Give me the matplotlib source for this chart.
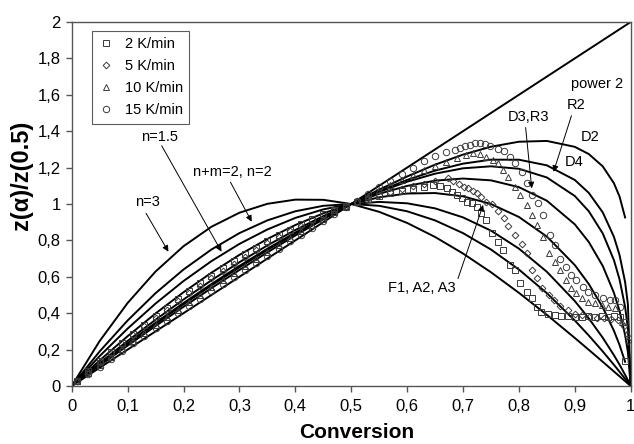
import matplotlib
matplotlib.use('Agg')
import matplotlib.pyplot as plt
from matplotlib.lines import Line2D

plt.rcParams['font.family'] = ['Liberation Sans', 'DejaVu Sans']

# ---------------- model master curves z(a)/z(0.5) ----------------
model_alpha = [0, .05, .1, .15, .2, .25, .3, .35, .4, .45, .5, .55, .6, .65, .7,
               .75, .8, .85, .9, .925, .95, .97, .98, .99, .995, 1.0]
n3 = [0, .2470, .4560, .6290, .7680, .8750, .9520, 1.0010, 1.0240, 1.0230, 1.0,
      .9570, .8960, .8190, .7280, .6250, .5120, .3910, .2640, .1989, .1330,
      .0799, .0533, .0267, .0133, 0]
n2 = [0, .19, .36, .51, .64, .75, .84, .91, .96, .99, 1.0, .99, .96, .91, .84,
      .75, .64, .51, .36, .2775, .19, .1164, .0784, .0396, .0199, 0]
n15 = [0, .1643, .3154, .4530, .5767, .6861, .7807, .8600, .9235, .9704, 1.0,
       1.0115, 1.0039, .9760, .9265, .8536, .7549, .6276, .4669, .3719, .2651,
       .1694, .1173, .0615, .0317, 0]
f1 = [0, .1406, .2736, .3986, .5151, .6226, .7204, .8079, .8844, .9487, 1.0,
      1.0368, 1.0575, 1.0602, 1.0422, 1.0, .9288, .8211, .6644, .5605, .4322,
      .3035, .2258, .1329]
r3 = [0, .1260, .2475, .3641, .4753, .5808, .6800, .7723, .8570, .9333, 1.0,
      1.0559, 1.0994, 1.1284, 1.1399, 1.1300, 1.0926, 1.0181, .8883, .7914,
      .6596, .5121, .4131, .2802, .1865, 0]
r2 = [0, .1192, .2350, .3474, .4559, .5602, .6599, .7543, .8430, .9252, 1.0,
      1.0662, 1.1224, 1.1666, 1.1961, 1.2071, 1.1936, 1.1458, 1.0440, .9602,
      .8383, .6915, .5863, .4346, .3173, 0]
d4 = [0, .1167, .2304, .3413, .4487, .5524, .6521, .7473, .8375, .9220, 1.0,
      1.0705, 1.1323, 1.1835, 1.2217, 1.2435, 1.2434, 1.2124, 1.1320, 1.0612,
      .9539, .8197, .7202, .5709, .4490, 0]
d2 = [0, .1120, .2219, .3297, .4350, .5377, .6375, .7340, .8270, .9158, 1.0,
      1.0788, 1.1512, 1.2160, 1.2713, 1.3147, 1.3421, 1.3465, 1.3141, 1.2745,
      1.2068, 1.1142, 1.0414, .9261]
p2_alpha = [0, 1]
p2 = [0, 2]

# ---------------- experimental points ----------------
sq_a = [.01, .03, .05, .07, .09, .11, .13, .15, .17, .19, .21, .23, .25, .27, .29,
        .31, .33, .35, .37, .39, .41, .43, .45, .47, .49, .51, .53, .55, .57, .59,
        .61, .63,
        .647, .659, .671, .680, .690, .698, .708, .716, .725, .733, .742, .751,
        .763, .772, .784, .793, .802, .814, .823, .832, .840,
        .852, .864, .876, .888, .900, .912, .924, .936, .948, .960, .970, .980, .990]
sq_v = [.027, .081, .135, .187, .238, .288, .337, .385, .431, .477,
        .521, .564, .606, .646, .686, .723, .759, .794, .827, .858,
        .888, .916, .943, .967, .989, 1.010, 1.028, 1.044, 1.058, 1.070,
        1.083, 1.096,
        1.104, 1.099, 1.086, 1.068, 1.049, 1.031, 1.013, 1.004, .985, .950,
        .912, .839, .793, .747, .665, .637, .568, .518, .482, .436, .408,
        .398, .390, .385, .383, .381, .380, .383, .380, .385, .380, .385, .380, .140]

di_a = [.01, .03, .05, .07, .09, .11, .13, .15, .17, .19, .21, .23, .25, .27, .29,
        .31, .33, .35, .37, .39, .41, .43, .45, .47, .49, .51, .53, .55, .57, .59,
        .61, .63, .65,
        .674, .683, .693, .701, .709, .718, .725, .733, .742, .751, .763, .773,
        .781, .793, .805, .814, .823, .833, .841, .853, .862,
        .874, .887, .900, .913, .926, .939, .952, .965, .977, .988, .995]
di_v = [.027, .078, .130, .181, .231, .279, .327, .374, .420, .465,
        .509, .552, .594, .634, .673, .711, .747, .783, .817, .849,
        .880, .910, .938, .965, .990, 1.011, 1.032, 1.051, 1.068, 1.083,
        1.097, 1.110, 1.125,
        1.141, 1.128, 1.110, 1.095, 1.086, 1.071, 1.062, 1.040, 1.013, 1.0,
        .962, .921, .879, .832, .781, .733, .637, .592, .537, .500, .473,
        .440, .415, .398, .388, .380, .375, .372, .368, .365, .330, .250]

tr_a = [.01, .03, .05, .07, .09, .11, .13, .15, .17, .19, .21, .23, .25, .27, .29,
        .31, .33, .35, .37, .39, .41, .43, .45, .47, .49, .51, .53, .55, .57, .59,
        .61, .63, .65, .67, .69, .705,
        .718, .730, .742, .754, .763, .772, .781, .793, .802, .814,
        .823, .832, .844, .853, .865, .874, .884, .893, .903, .912,
        .924, .936, .948, .960, .972, .984, .993]
tr_v = [.028, .072, .118, .162, .206, .250, .293, .336, .378, .420,
        .461, .502, .543, .583, .623, .662, .700, .738, .776, .813,
        .849, .885, .920, .954, .985, 1.016, 1.046, 1.076, 1.105, 1.133,
        1.160, 1.186, 1.210, 1.232, 1.252, 1.268,
        1.279, 1.273, 1.260, 1.242, 1.224, 1.187, 1.150, 1.095, 1.049, .995,
        .940, .885, .820, .729, .683, .637, .582, .537, .509, .482,
        .463, .454, .445, .436, .427, .353, .290]

ci_a = [.01, .03, .05, .07, .09, .11, .13, .15, .17, .19, .21, .23, .25, .27, .29,
        .31, .33, .35, .37, .39, .41, .43, .45, .47, .49, .51, .53, .55, .57, .59,
        .61, .63, .65, .67, .685,
        .695, .704, .713, .722, .730, .739, .748, .763, .773, .784,
        .793, .805, .814, .823, .834, .844, .856, .865, .874, .885,
        .894, .903, .915, .924, .936, .951, .963, .972, .981, .990]
ci_v = [.025, .065, .107, .150, .192, .234, .275, .317, .358, .399,
        .440, .480, .520, .560, .600, .639, .678, .717, .755, .794,
        .832, .870, .907, .945, .982, 1.018, 1.055, 1.091, 1.127, 1.163,
        1.199, 1.234, 1.262, 1.285, 1.298,
        1.306, 1.319, 1.324, 1.333, 1.333, 1.330, 1.319, 1.300, 1.293, 1.260,
        1.224, 1.177, 1.114, 1.049, 1.004, .940, .830, .775, .696, .655,
        .610, .582, .542, .518, .500, .482, .473, .473, .436, .350]

series_labels = ['2 K/min', '5 K/min', '10 K/min', '15 K/min']
xtick_vals = [0, .1, .2, .3, .4, .5, .6, .7, .8, .9, 1]
xtick_labels = ['0', '0,1', '0,2', '0,3', '0,4', '0,5', '0,6', '0,7', '0,8', '0,9', '1']
ytick_vals = [0, .2, .4, .6, .8, 1, 1.2, 1.4, 1.6, 1.8, 2]
ytick_labels = ['0', '0,2', '0,4', '0,6', '0,8', '1', '1,2', '1,4', '1,6', '1,8', '2']

# ---------------- figure ----------------
W, H = 634, 444
fig = plt.figure(figsize=(W / 100, H / 100), dpi=100)
ax = fig.add_axes([71.7 / W, (H - 386) / H, 559 / W, 364 / H])

ckw = dict(color='black', lw=1.4, zorder=2)
ax.plot(p2_alpha, p2, **ckw)
for vals in (n3, n2, n15, f1, r3, r2, d4, d2):
    ax.plot(model_alpha[:len(vals)], vals, **ckw)

mk = dict(ls='none', mfc='none', mec='#3a3a3a', ms=4.3, mew=0.7, zorder=3)
markers = ['s', 'D', '^', 'o']
sizes = [4.3, 3.4, 4.5, 4.6]
handles = []
for (a, v), m, s, lab in zip([(sq_a, sq_v), (di_a, di_v), (tr_a, tr_v), (ci_a, ci_v)],
                             markers, sizes, series_labels):
    kw = dict(mk)
    kw['ms'] = s
    ax.plot(a, v, marker=m, **kw)
    handles.append(Line2D([], [], marker=m, **kw))

leg = ax.legend(handles, series_labels, loc='upper left',
                bbox_to_anchor=((91.7 - 71.7) / 559, (386 - 30.7) / 364),
                borderaxespad=0, fontsize=10.5, frameon=True, fancybox=False,
                handlelength=1.0, handletextpad=0.8, labelspacing=0.55,
                borderpad=0.45)
leg.get_frame().set_edgecolor('#333333')
leg.get_frame().set_linewidth(0.8)

ax.set_xlim(0, 1)
ax.set_ylim(0, 2)
ax.set_xticks(xtick_vals)
ax.set_xticklabels(xtick_labels)
ax.set_yticks(ytick_vals)
ax.set_yticklabels(ytick_labels)
ax.tick_params(direction='out', length=4.5, width=1, color='#555555',
               labelsize=12)
ax.tick_params(axis='x', pad=4.5)
ax.tick_params(axis='y', pad=3.5)
for sp in ax.spines.values():
    sp.set_color('#555555')
    sp.set_linewidth(1.0)

fig.text(357 / W, 1 - 432 / H, 'Conversion', fontsize=15, fontweight='bold',
         ha='center', va='center')
fig.text(22 / W, 1 - 175 / H, 'z(α)/z(0.5)', fontsize=17, fontweight='bold',
         ha='center', va='center', rotation=90)

# ---------------- annotations ----------------
tfs = 10.5
akw = dict(arrowstyle='-|>', color='black', lw=0.7, mutation_scale=9,
           shrinkA=0, shrinkB=0)
ax.text(.94, 1.66, 'power 2', fontsize=tfs, ha='center', va='center')
ax.text(.135, 1.009, 'n=3', fontsize=tfs, ha='center', va='center')
ax.annotate('', xy=(.173, .738), xytext=(.133, .949), arrowprops=akw)
ax.text(.158, 1.37, 'n=1.5', fontsize=tfs, ha='center', va='center')
ax.annotate('', xy=(.268, .738), xytext=(.161, 1.32), arrowprops=akw)
ax.text(.287, 1.178, 'n+m=2, n=2', fontsize=tfs, ha='center', va='center')
ax.annotate('', xy=(.322, .903), xytext=(.284, 1.12), arrowprops=akw)
ax.text(.818, 1.48, 'D3,R3', fontsize=tfs, ha='center', va='center')
ax.annotate('', xy=(.823, 1.086), xytext=(.812, 1.42), arrowprops=akw)
ax.text(.903, 1.544, 'R2', fontsize=tfs, ha='center', va='center')
ax.annotate('', xy=(.862, 1.177), xytext=(.894, 1.485), arrowprops=akw)
ax.text(.928, 1.366, 'D2', fontsize=tfs, ha='center', va='center')
ax.text(.899, 1.232, 'D4', fontsize=tfs, ha='center', va='center')
ax.text(.626, .537, 'F1, A2, A3', fontsize=tfs, ha='center', va='center')
ax.annotate('', xy=(.736, .995), xytext=(.691, .59), arrowprops=akw)

fig.savefig('out.png', dpi=100)
